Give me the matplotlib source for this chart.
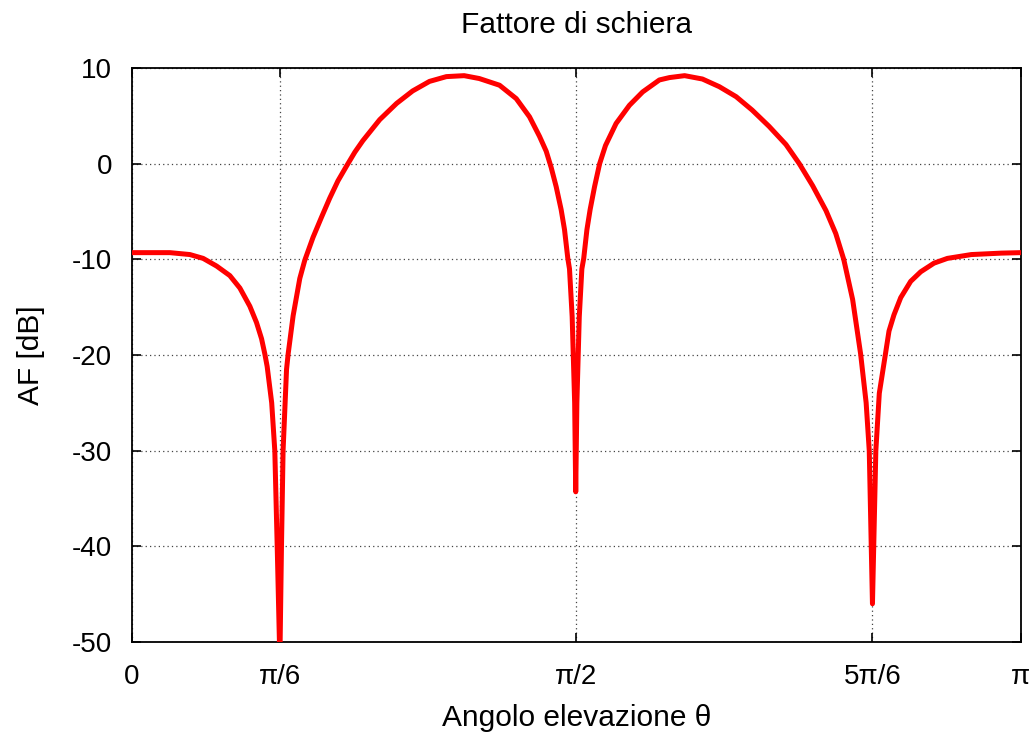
import matplotlib.pyplot as plt
import numpy as np

plt.rcParams['font.family'] = ['Liberation Sans', 'DejaVu Sans']
plt.rcParams['axes.unicode_minus'] = False

# angolo in unita' di pi
theta_pi = [0.000, 0.043, 0.0655, 0.0804, 0.0955, 0.1104, 0.1217, 0.1329, 0.1404, 0.1461,
            0.1498, 0.1524, 0.1575, 0.161, 0.1637, 0.1667, 0.1685, 0.1703, 0.1742, 0.1760,
            0.1816, 0.1891, 0.1947, 0.2040, 0.2135, 0.2228, 0.2320, 0.242, 0.251, 0.260,
            0.279, 0.298, 0.316, 0.335, 0.354, 0.374, 0.391, 0.4138, 0.4326, 0.4475,
            0.4588, 0.4663, 0.4719, 0.4775, 0.4831, 0.4869, 0.4906, 0.4925, 0.4955, 0.4983,
            0.4995, 0.5008, 0.5035, 0.5064, 0.5085, 0.5121, 0.5157, 0.5207, 0.5264, 0.5330,
            0.5449, 0.5599, 0.5748, 0.5936, 0.605, 0.622, 0.642, 0.661, 0.680, 0.698,
            0.717, 0.736, 0.751, 0.766, 0.781, 0.792, 0.801, 0.811, 0.820, 0.8262,
            0.8297, 0.8333, 0.8371, 0.8410, 0.8479, 0.8519, 0.8575, 0.8651, 0.8763, 0.8876,
            0.9025, 0.9176, 0.9445, 0.9782, 1.000]
af_db = [-9.3, -9.3, -9.5, -9.9, -10.7, -11.7, -13.0, -14.9, -16.6, -18.3,
         -19.9, -21.2, -25.0, -30.0, -40.0, -52.0, -40.0, -30.0, -21.5, -19.9,
         -15.9, -12.0, -10.1, -7.7, -5.6, -3.6, -1.8, -0.2, 1.2, 2.4,
         4.6, 6.3, 7.6, 8.6, 9.1, 9.2, 8.9, 8.2, 6.8, 4.9,
         2.85, 1.3, -0.4, -2.4, -4.8, -6.9, -9.9, -11.0, -16.0, -25.0,
         -34.3, -25.0, -16.0, -11.0, -9.9, -6.9, -4.8, -2.4, 0.0, 1.9,
         4.2, 6.1, 7.5, 8.75, 9.0, 9.2, 8.85, 8.05, 7.0, 5.6,
         3.9, 2.0, 0.0, -2.3, -4.9, -7.3, -10.0, -14.2, -19.9, -25.0,
         -30.0, -46.0, -30.0, -24.0, -19.9, -17.5, -15.8, -14.0, -12.3, -11.3,
         -10.4, -9.9, -9.5, -9.35, -9.3]

xtick_pos = [0, 1/6, 1/2, 5/6, 1]
xtick_labels = ['0', 'π/6', 'π/2', '5π/6', 'π']
ytick_pos = [10, 0, -10, -20, -30, -40, -50]

fig = plt.figure(figsize=(10.32, 7.36), dpi=100)
ax = fig.add_axes([0.1276, 0.1277, 0.8614, 0.7799])

theta = np.pi * np.array(theta_pi)
ax.plot(theta, af_db, color='#ff0000', lw=3.6, solid_joinstyle='round', zorder=3)

ax.set_xlim(0, np.pi)
ax.set_ylim(-50, 10)
ax.set_xticks([np.pi * p for p in xtick_pos])
ax.set_xticklabels(xtick_labels)
ax.set_yticks(ytick_pos)

ax.grid(True, color='#444444', lw=0.9, linestyle=(0, (1, 2.5)))
ax.tick_params(direction='in', length=6.5, width=1.2, top=True, right=True,
               labelsize=20, pad=14)
ax.tick_params(axis='x', pad=16)
for s in ax.spines.values():
    s.set_linewidth(1.3)

ax.set_title('Fattore di schiera', fontsize=21.5, pad=25)
ax.set_xlabel('Angolo elevazione θ', fontsize=21.5)
ax.set_ylabel('AF [dB]', fontsize=21.5)
ax.xaxis.set_label_coords(0.5, -0.108)
ax.yaxis.set_label_coords(-0.097, 0.5)

fig.savefig('out.png', dpi=100)
